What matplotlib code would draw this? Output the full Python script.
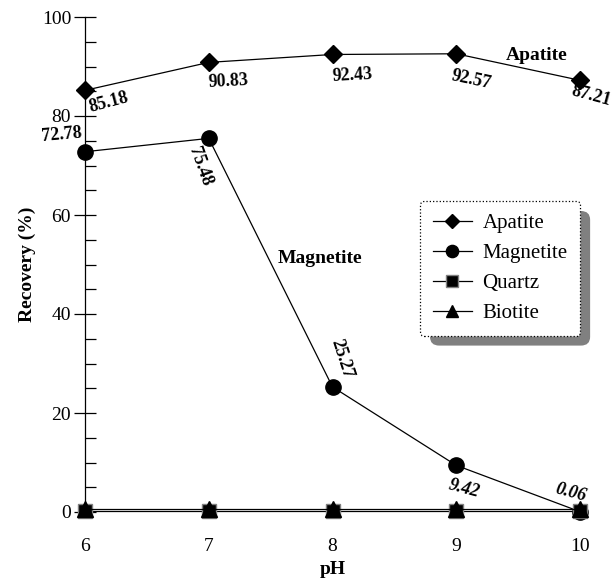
import matplotlib
matplotlib.use("Agg")
import matplotlib.pyplot as plt
from matplotlib.patches import FancyBboxPatch
from matplotlib.ticker import MultipleLocator

plt.rcParams.update({'font.family': 'serif', 'font.serif': ['Liberation Serif', 'DejaVu Serif']})

ph = [6, 7, 8, 9, 10]
apatite = [85.18, 90.83, 92.43, 92.57, 87.21]
magnetite = [72.78, 75.48, 25.27, 9.42, 0.06]
quartz = [0.2, 0.2, 0.2, 0.2, 0.2]
biotite = [0.6, 0.6, 0.6, 0.6, 0.6]

apatite_labels = ["85.18", "90.83", "92.43", "92.57", "87.21"]
magnetite_labels = ["72.78", "75.48", "25.27", "9.42", "0.06"]

fig = plt.figure(figsize=(6.14, 5.83), dpi=100)
ax = fig.add_axes([85/614, 1-512/583, 495/614, 495/583])

kw = dict(color='black', linewidth=0.9, clip_on=False)
ax.plot(ph, apatite, marker='D', markersize=9, label='Apatite', **kw)
ax.plot(ph, magnetite, marker='o', markersize=11, label='Magnetite', **kw)
ax.plot(ph, quartz, marker='s', markersize=10, markeredgecolor='gray', label='Quartz', **kw)
ax.plot(ph, biotite, marker='^', markersize=11, label='Biotite', **kw)

ax.set_xlim(6, 10)
ax.set_ylim(0, 100)
for s in ['top', 'right', 'bottom']:
    ax.spines[s].set_visible(False)
ax.spines['left'].set_linewidth(0.9)
ax.set_xticks(ph)
ax.tick_params(axis='x', length=0, labelsize=14, pad=19)
ax.yaxis.set_major_locator(MultipleLocator(20))
ax.yaxis.set_minor_locator(MultipleLocator(5))
ax.tick_params(axis='y', which='major', direction='inout', length=16, width=0.9, labelsize=14, pad=2)
ax.tick_params(axis='y', which='minor', direction='in', length=8, width=0.9)
ax.set_xlabel('pH', fontweight='bold', fontsize=14, labelpad=4)
ax.set_ylabel('Recovery (%)', fontweight='bold', fontsize=14, labelpad=4)

# value labels (offsets in points, rotation in degrees)
ap_pos = [((17, -9), 15), ((14, -14), 3), ((14, -15), 3), ((11, -19), -12), ((8, -11), -15)]
for x, y, t, (off, rot) in zip(ph, apatite, apatite_labels, ap_pos):
    ax.annotate(t, (x, y), xytext=off, textcoords='offset points', ha='center', va='center',
                rotation=rot, fontsize=13, fontweight='bold', annotation_clip=False)
mg_pos = [((-17, 12), 5), ((-6, -20), -70), ((7, 20), -72), ((6, -17), -15), ((-7, 14), -15)]
for x, y, t, (off, rot) in zip(ph, magnetite, magnetite_labels, mg_pos):
    ax.annotate(t, (x, y), xytext=off, textcoords='offset points', ha='center', va='center',
                rotation=rot, fontsize=13, fontweight='bold', annotation_clip=False,
                style='italic' if x >= 9 else 'normal')

ax.text(9.65, 92.3, 'Apatite', fontsize=14, fontweight='bold', ha='center', va='center')
ax.text(7.90, 51.3, 'Magnetite', fontsize=14, fontweight='bold', ha='center', va='center')

leg = ax.legend(loc='upper left', bbox_to_anchor=(420/614, 1-201/583), bbox_transform=fig.transFigure,
                borderaxespad=0, fontsize=15, fancybox=True, framealpha=1, handlelength=1.9,
                markerscale=0.8, handletextpad=0.5, labelspacing=0.5, borderpad=0.6,
                edgecolor='black')
leg.get_frame().set_linestyle(':')
leg.get_frame().set_linewidth(0.9)
leg.set_zorder(6)

fig.canvas.draw()
bb = leg.get_frame().get_window_extent().transformed(fig.transFigure.inverted())
sh = FancyBboxPatch((bb.x0 + 10/614, bb.y0 - 10/583), bb.width, bb.height,
                    boxstyle='round,pad=0,rounding_size=0.015', transform=fig.transFigure,
                    facecolor='#808080', edgecolor='none', zorder=5, clip_on=False)
ax.add_artist(sh)

fig.savefig('out.png', dpi=100)
